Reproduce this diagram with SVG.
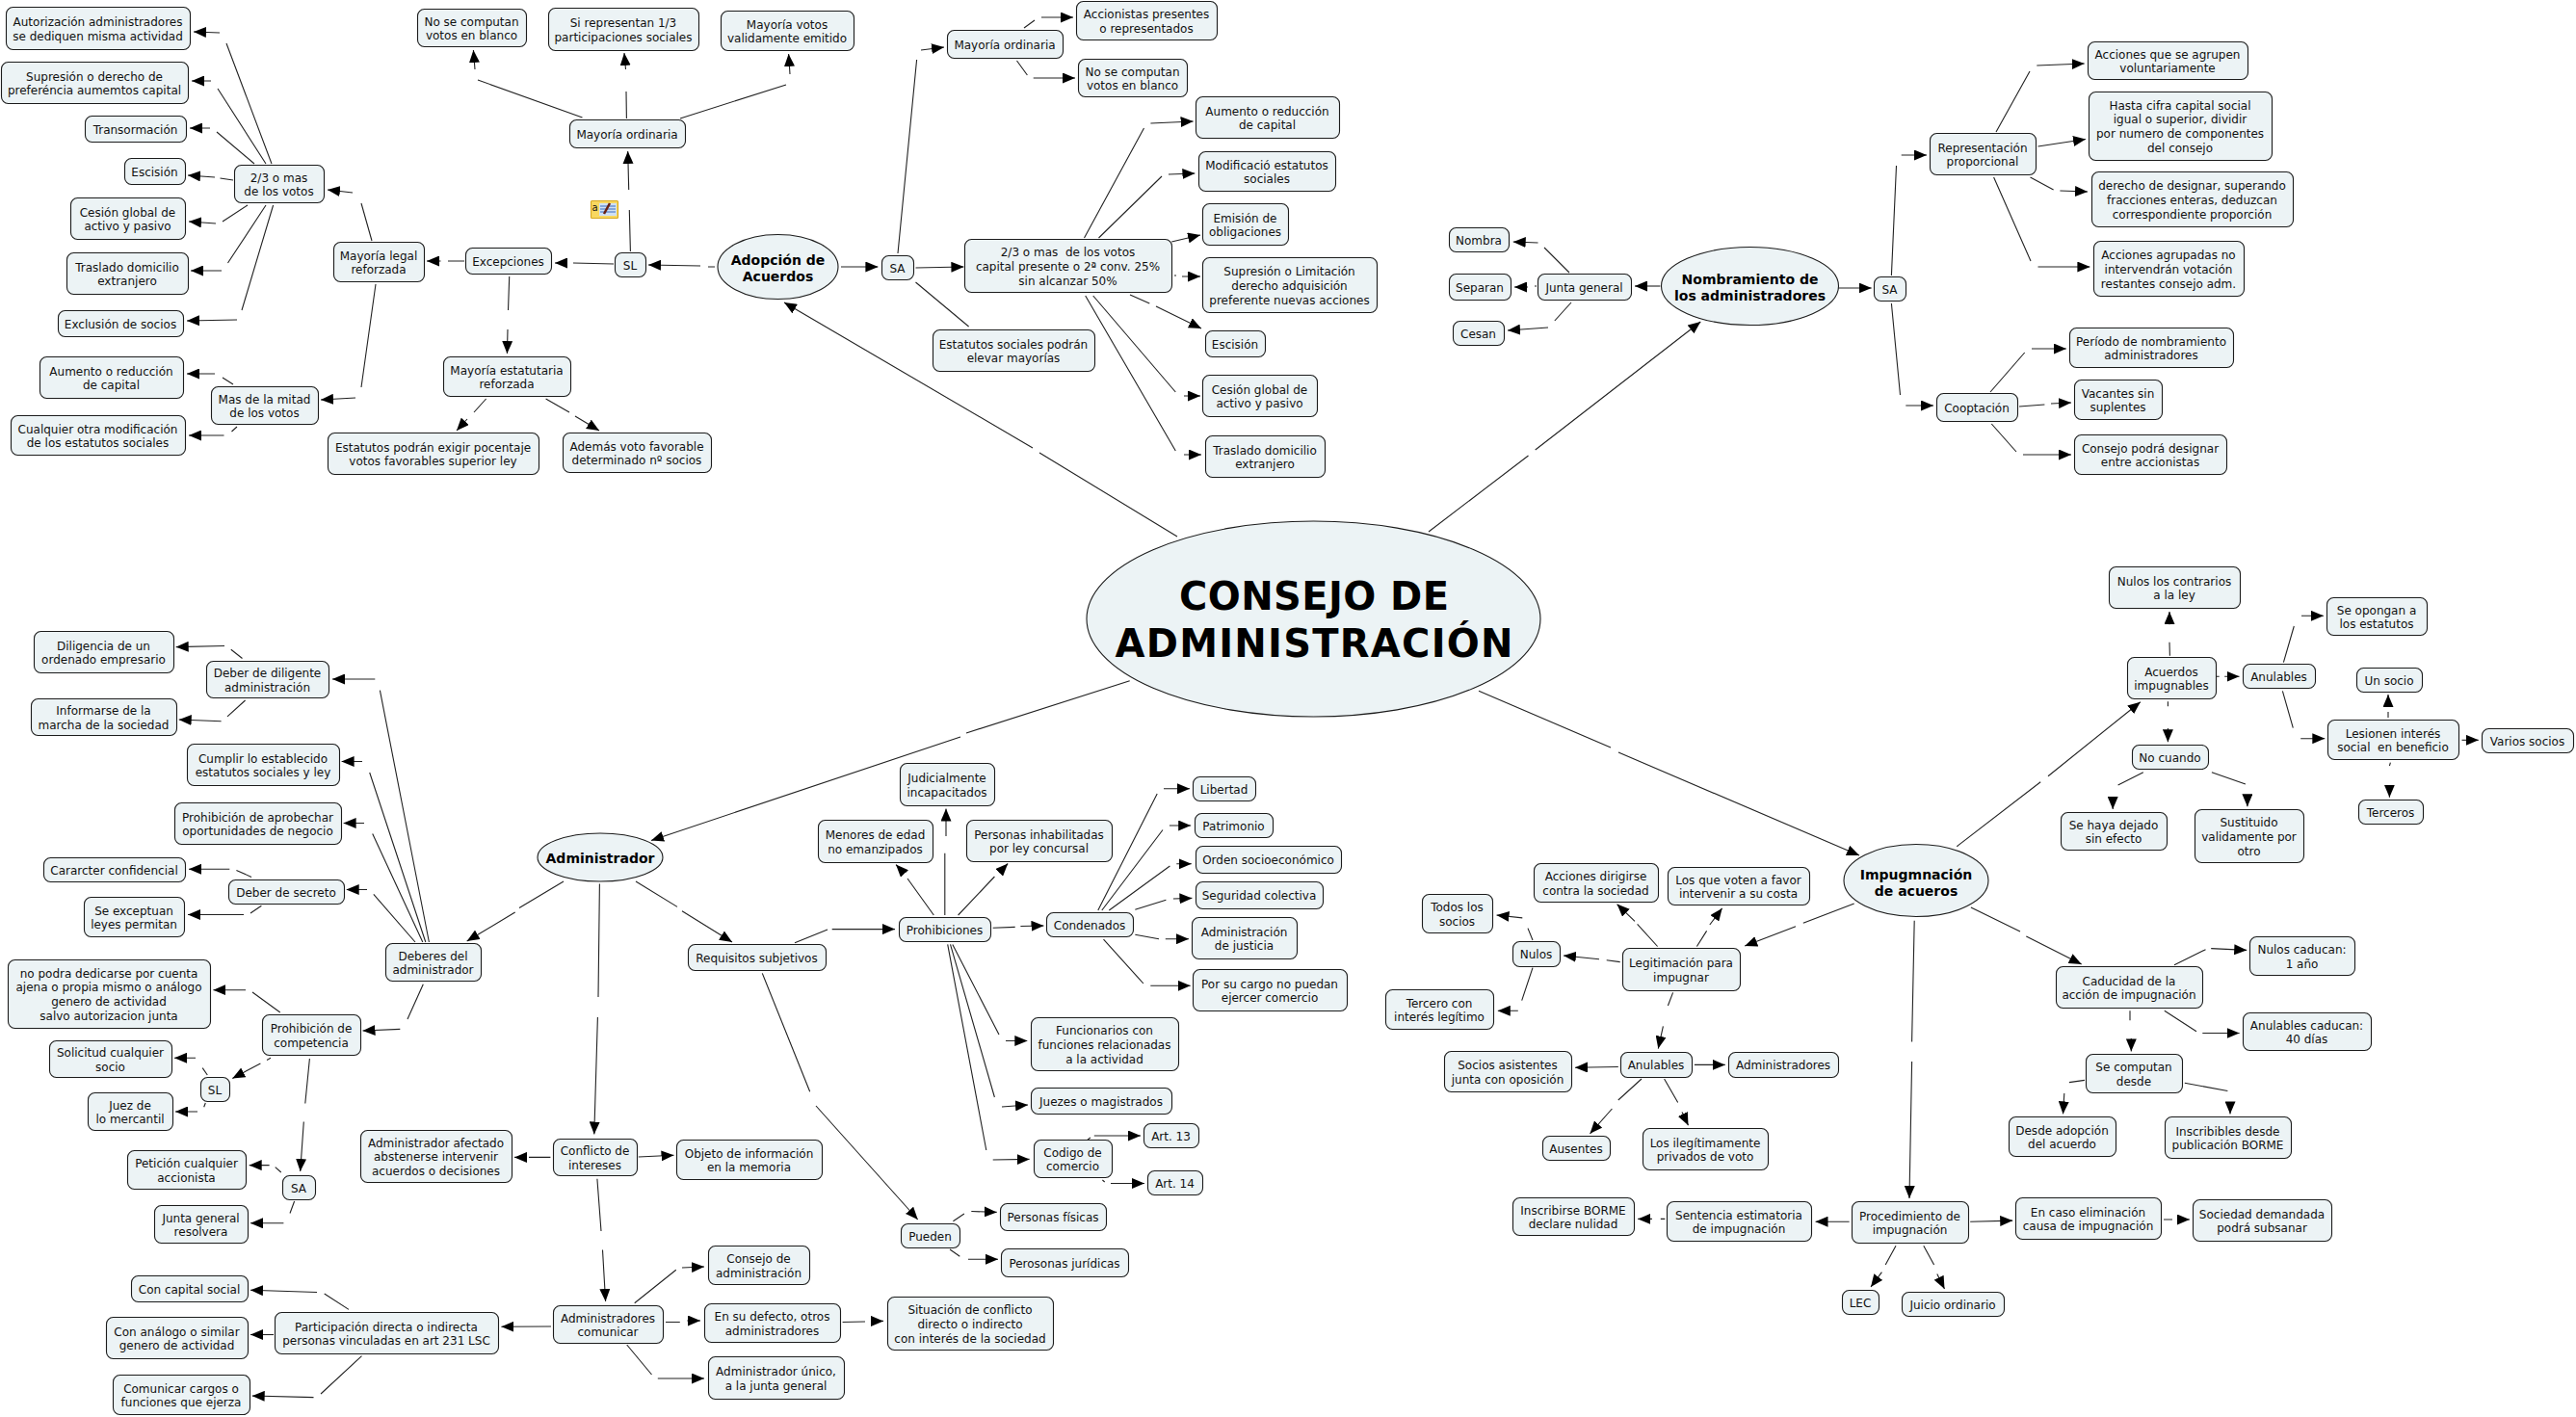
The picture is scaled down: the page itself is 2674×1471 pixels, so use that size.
<svg xmlns="http://www.w3.org/2000/svg" width="2674" height="1471" viewBox="0 0 2674 1471">
<style>
rect,ellipse{fill:#ecf3f5;stroke:#1c1c1c;stroke-width:1.1}
rect{rx:7px;ry:7px}
text{font-family:"DejaVu Sans",Verdana,sans-serif;font-size:12px;fill:#111;text-anchor:middle;white-space:pre;transform:translateY(1px)}
text.b{font-weight:bold;font-size:14px;fill:#000}
text.t{font-weight:bold;font-size:40px;fill:#000;transform:none}
#connectors path{fill:none;stroke:#222;stroke-width:1.1}
#connectors path.a{marker-end:url(#arr)}
</style>
<defs><marker id="arr" markerUnits="userSpaceOnUse" markerWidth="13" markerHeight="11" refX="13" refY="5.5" orient="auto"><path d="M0 0L13 5.5L0 11Z" fill="#000" stroke="none"/></marker></defs>
<rect width="2674" height="1471" style="fill:#fff;stroke:none;rx:0;ry:0"/>
<g id="connectors">
<path class="a" d="M282 170L235 45M228 34L201 33"/>
<path class="a" d="M276 170L226 92M219 84L199 84"/>
<path class="a" d="M264 170L225 137M218 133L197 133"/>
<path class="a" d="M242 187L228.5 185M223 184L195 182"/>
<path class="a" d="M257 213L231 230M224 232L196 230"/>
<path class="a" d="M276 213L236.500 273M230 281L198 281"/>
<path class="a" d="M283.600 213L251 322M246 332L194 333"/>
<path class="a" d="M386 250L375 211M366 200L340 197"/>
<path class="a" d="M390 295L375 402M369 413L333 415"/>
<path class="a" d="M242 399L231 392M223 388L194 388"/>
<path class="a" d="M246 443L240.500 448M232.500 452L196 452"/>
<path class="a" d="M482 271L465 271M457.500 271L443 271"/>
<path class="a" d="M637 274L595 273M589 273L576 273"/>
<path class="a" d="M742 277L735 277M727 276L673 275"/>
<path class="a" d="M654.400 261L653.300 218M652.700 197L651.700 157"/>
<path class="a" d="M604.500 122L496 83M493 72L491.400 52"/>
<path class="a" d="M650.400 123L650 95M649.500 72L648 55"/>
<path class="a" d="M706 123L816 88M820 77L818.600 56"/>
<path class="a" d="M528.700 287L527.500 322M527 342L526.400 367"/>
<path class="a" d="M504.600 414L492 428M485 435L474 447"/>
<path class="a" d="M566.600 414L591 428M597 432L622 447"/>
<path class="a" d="M1222 557L1079 470M1072 465L814 314"/>
<path class="a" d="M873 277L911.400 277"/>
<path class="a" d="M950.500 278L1000.400 277"/>
<path class="a" d="M932 263L951.600 62M956 52L980 49"/>
<path d="M950.500 293L1005.600 339"/>
<path class="a" d="M1063 29L1074 21M1081 18L1114 18"/>
<path class="a" d="M1055.500 63L1066.400 78M1072.700 81L1116 81"/>
<path class="a" d="M1125.500 247L1187.500 133M1194.400 128L1238.600 126"/>
<path class="a" d="M1140.500 247L1206 183M1213 181L1240.400 180"/>
<path class="a" d="M1216.200 251L1246 244"/>
<path class="a" d="M1219 286L1221 286M1227 287L1246 287"/>
<path class="a" d="M1173 306L1193.300 315M1200 318L1247 341"/>
<path class="a" d="M1134.700 307L1220.300 407M1229 411L1246 411"/>
<path class="a" d="M1126.700 307L1220.300 468M1229 472L1247 472"/>
<path class="a" d="M1483 552L1586.500 473M1593.700 467L1765.300 334"/>
<path class="a" d="M1723.400 297L1697 297"/>
<path class="a" d="M1907.700 299L1942.700 299"/>
<path class="a" d="M1629 283L1603 257M1596.500 252L1570.700 251"/>
<path class="a" d="M1595 297L1593 297M1586 298L1572 298"/>
<path class="a" d="M1631 314L1613.800 333M1607 340L1565 343"/>
<path class="a" d="M1963.400 286L1968.500 172M1973.700 161L2000 161"/>
<path class="a" d="M1963.400 315L1972.500 410M1978.300 421L2007 421"/>
<path class="a" d="M2072 137L2107 74M2114.300 68L2163.700 66"/>
<path class="a" d="M2115.500 152L2165 144.500"/>
<path class="a" d="M2107.500 184L2131.600 197M2138.400 198L2167 199"/>
<path class="a" d="M2069.600 184L2108 271M2115.500 277L2169.400 277"/>
<path class="a" d="M2066 407L2101.700 366M2109 362L2144.800 362"/>
<path class="a" d="M2096 422L2122.400 420M2129 419L2150 418"/>
<path class="a" d="M2067.300 440L2093 469M2100 472L2150 472"/>
<path class="a" d="M1172.700 706.700L1003 761M997 765L676 872.500"/>
<path class="a" d="M585 915L539 942.500M534.700 947L484.700 977"/>
<path class="a" d="M622.400 917.500L621 1035M620.400 1056L616.800 1177.500"/>
<path class="a" d="M660 915L703 941.400M708 945.700L760 978"/>
<path class="a" d="M445.400 978L394.400 716.600M389.300 705L345 705"/>
<path class="a" d="M441.800 978L383.700 802M376 790.500L354.600 790.500"/>
<path class="a" d="M438.800 978L386.700 865.400M378 854.500L356.600 854.500"/>
<path class="a" d="M431 978L387.800 928.400M381 923.500L359.700 923.500"/>
<path class="a" d="M439.300 1021.700L423 1058M415.300 1068.400L376.500 1070"/>
<path class="a" d="M251.500 683.500L239.800 674.300M233 670.500L182.700 671.600"/>
<path class="a" d="M254.600 727L236 743.800M229.600 748.700L185.700 747"/>
<path class="a" d="M261 910.400L245.400 903.400M238.300 902.300L196 902.300"/>
<path class="a" d="M271.400 940.300L260 948M253 949.500L195 949.500"/>
<path class="a" d="M290.800 1051L262 1030M255 1027.700L221.400 1027.700"/>
<path class="a" d="M281 1098.300L277 1100.500M270.400 1104L241.300 1119.500"/>
<path class="a" d="M321.400 1099L316.800 1145.500M315.300 1164.500L311.700 1216"/>
<path class="a" d="M215.300 1116L210.200 1108.600M203 1098.300L181 1098.300"/>
<path class="a" d="M213.300 1145L211.700 1149.300M205 1154L182 1154"/>
<path class="a" d="M291.800 1217L285.700 1211.700M279.600 1209.600L258.700 1209.600"/>
<path class="a" d="M305.600 1247L301 1259.500M294.400 1269.800L260 1269.800"/>
<path class="a" d="M571.400 1201.400L549 1201.400M544 1201.400L534 1201.400"/>
<path class="a" d="M662.800 1201L699.500 1199.300"/>
<path class="a" d="M619.900 1223.700L624 1278M625.500 1297.500L628.600 1351"/>
<path class="a" d="M572 1377L520.400 1377.300"/>
<path class="a" d="M362 1359.400L336.700 1343M329 1341.500L260 1339.300"/>
<path class="a" d="M284 1385.500L260 1385.500"/>
<path class="a" d="M375.500 1407.700L333 1447M325.500 1450.600L261.700 1449"/>
<path class="a" d="M658.700 1352.700L701.800 1318.300M708 1316L731 1315"/>
<path class="a" d="M691 1372.500L705.800 1372.500M713.300 1371L727 1371"/>
<path class="a" d="M650.700 1396L676.500 1427M682.800 1431L731 1431"/>
<path class="a" d="M874.600 1372.500L898 1372M904.400 1371.400L917 1371.400"/>
<path class="a" d="M825 978.700L859 965M863.700 964.600L929 964.600"/>
<path class="a" d="M791.300 1010.400L840.700 1133.300M847 1148L952.700 1266"/>
<path class="a" d="M969.300 950L942 912M938 906L930 897.600"/>
<path class="a" d="M980.800 950L980.800 885.700M982 868L982 839.500"/>
<path class="a" d="M994.600 950L1032.400 910M1037 906L1046.200 896.500"/>
<path class="a" d="M1030.700 963.300L1053.700 962.400M1059.400 961.500L1083.500 961"/>
<path class="a" d="M988.800 980.400L1037 1074M1044 1080.500L1066.300 1080.500"/>
<path class="a" d="M986.500 980.400L1032.400 1139M1040 1149L1067 1147"/>
<path class="a" d="M983.700 980.400L1023.800 1194M1030.700 1204L1068.600 1203.400"/>
<path class="a" d="M1139.800 945L1201.200 824M1208 818.800L1235 818.800"/>
<path class="a" d="M1143.800 945L1207 861.500M1213.900 857L1236.200 857"/>
<path class="a" d="M1151.300 945L1214.400 899M1221.300 896.800L1236.800 896.800"/>
<path class="a" d="M1178.300 944.300L1210.400 934.200M1217.900 933L1237.400 932.400"/>
<path class="a" d="M1178.300 970.300L1203 974.700M1209.800 974.700L1234 974.700"/>
<path class="a" d="M1145.500 975.200L1186.900 1021M1194.300 1023.300L1235.700 1023.300"/>
<path class="a" d="M1129 1183L1132 1181M1135.800 1179L1184 1179"/>
<path class="a" d="M1144.400 1225L1146.700 1227M1153 1228.500L1188 1228.500"/>
<path class="a" d="M989.400 1267.700L1000.900 1260M1008.300 1257.500L1034.700 1258.400"/>
<path class="a" d="M986 1297L996.300 1304.300M1005 1307.300L1036 1307.300"/>
<path class="a" d="M1535 717.300L1672 776M1680 781L1930 888"/>
<path class="a" d="M2031.300 878.700L2118.200 811.700M2126 805.700L2221.800 728.700"/>
<path class="a" d="M1924.700 937.900L1871.800 958.200M1864 961.800L1811.200 982"/>
<path class="a" d="M1987.200 955.700L1984.600 1081.400M1984.600 1102L1982 1244"/>
<path class="a" d="M2045.900 942L2097 967M2103.300 972L2160.700 1001"/>
<path class="a" d="M2252.400 680.700L2252 666.700M2252 648.300L2252 635"/>
<path class="a" d="M2300.800 702.300L2303.700 702.300M2309.200 702.300L2324.500 702.300"/>
<path class="a" d="M2250.400 728.300L2250.400 733.300M2250.400 756L2250.400 770.300"/>
<path class="a" d="M2370.400 687.700L2381.300 650M2389 639.300L2411.900 639.300"/>
<path class="a" d="M2369.400 717.300L2380.300 755.700M2388.200 766.700L2413.300 766.700"/>
<path class="a" d="M2479 745L2479 739M2479 732L2479 721"/>
<path class="a" d="M2555.500 768.300L2572.800 768.300"/>
<path class="a" d="M2481.400 791.700L2480.400 795M2480.400 816.700L2480.400 827.700"/>
<path class="a" d="M2224.800 801.700L2198.600 815M2193.200 828.300L2193.200 840"/>
<path class="a" d="M2295.900 801.700L2330.900 814M2332.900 825.700L2332.900 837.300"/>
<path class="a" d="M1720.600 982.500L1699.600 959.300M1697 956.400L1678.500 938.600"/>
<path class="a" d="M1761.400 982.500L1771.600 966.400M1774.800 960L1787.600 942.900"/>
<path class="a" d="M1681.700 998.600L1667.700 996.800M1660 995.700L1623 992"/>
<path class="a" d="M1736.600 1030.400L1731.400 1044M1726.400 1065.400L1721.300 1088.600"/>
<path class="a" d="M1591 976L1586 963.600M1580.300 952.900L1553.500 950"/>
<path class="a" d="M1591 1004.600L1579.700 1038.600M1575.800 1049.300L1554.800 1049.300"/>
<path class="a" d="M1679.800 1107.500L1635 1108.200"/>
<path class="a" d="M1758.900 1105.400L1790.800 1105.400"/>
<path class="a" d="M1704 1120L1679.800 1142M1673.400 1151L1650.500 1176.800"/>
<path class="a" d="M1727.600 1120L1741.700 1144.600M1746 1154.600L1752.500 1168.200"/>
<path class="a" d="M2257 1001.800L2289.500 985.700M2295.200 984.600L2332.200 986.400"/>
<path class="a" d="M2246.800 1049.300L2280 1070.700M2286.300 1072.500L2324.600 1072.500"/>
<path class="a" d="M2211 1049.300L2211 1059.300M2212.300 1077.900L2212.300 1091.400"/>
<path class="a" d="M2163.900 1121.400L2147.900 1123.600M2142.800 1135L2141.500 1156.400"/>
<path class="a" d="M2267.800 1124.300L2312.400 1132.500M2315 1143.900L2315 1156.400"/>
<path class="a" d="M1919.600 1268.200L1884.500 1268.200"/>
<path class="a" d="M1728.300 1265.400L1723.800 1265.400M1714.900 1265.400L1700.200 1265.400"/>
<path class="a" d="M2045.200 1268.200L2089.200 1267.100"/>
<path class="a" d="M2246 1266L2255 1266M2262.700 1266L2272.900 1266"/>
<path class="a" d="M1968 1293.200L1957.200 1312.900M1953.400 1320.700L1942 1336"/>
<path class="a" d="M1996.800 1293.200L2007.600 1312.900M2010.800 1322.500L2018.500 1337.900"/>
</g>
<g id="note-icon">
<rect x="613.500" y="208.500" width="28" height="18" style="fill:#f8d860;stroke:#d8a820;rx:1px;ry:1px"/>
<rect x="622" y="211" width="18" height="13" style="fill:#cfe0f4;stroke:none;rx:0;ry:0"/>
<path d="M623 214H639M623 217H639M623 220H639" stroke="#3a6cc0" stroke-width="1" fill="none"/>
<path d="M627 222L633 211" stroke="#6a2010" stroke-width="2.500" fill="none"/>
<text x="617.500" y="218" style="font-size:10px">a</text>
</g>
<g id="center"><ellipse cx="1363.500" cy="642.500" rx="235.500" ry="101.500"/><text class="t" x="1364" y="633" textLength="280">CONSEJO DE</text><text class="t" x="1364" y="682" textLength="413">ADMINISTRACIÓN</text></g>
<g id="adopcion"><ellipse cx="807.500" cy="277" rx="62.500" ry="33.500"/><text class="b" x="807.500" y="274">Adopción de<tspan x="807.500" dy="17">Acuerdos</tspan></text></g>
<g id="nombramiento"><ellipse cx="1816.500" cy="297" rx="92" ry="40.500"/><text class="b" x="1816.500" y="293.500">Nombramiento de<tspan x="1816.500" dy="17">los administradores</tspan></text></g>
<g id="administrador"><ellipse cx="623" cy="890" rx="65" ry="25"/><text class="b" x="623" y="895">Administrador</text></g>
<g id="impugnacion"><ellipse cx="1989" cy="914" rx="75" ry="37.500"/><text class="b" x="1989" y="912">Impugmnación<tspan x="1989" dy="17">de acueros</tspan></text></g>
<g id="ad01"><rect x="6.500" y="7.500" width="191" height="44"/><text x="101.500" y="26">Autorización administradores<tspan x="101.500" dy="14.700">se dediquen misma actividad</tspan></text></g>
<g id="ad02"><rect x="1.500" y="64.500" width="194" height="43"/><text x="98" y="82.500">Supresión o derecho de<tspan x="98" dy="14.700">preferéncia aumemtos capital</tspan></text></g>
<g id="ad03"><rect x="88.500" y="120.500" width="105" height="27"/><text x="140.500" y="137.800">Transormación</text></g>
<g id="ad04"><rect x="129.500" y="164.500" width="63" height="27"/><text x="160.500" y="181.800">Escisión</text></g>
<g id="ad05"><rect x="73.500" y="205.500" width="119" height="43"/><text x="132.500" y="223.500">Cesión global de<tspan x="132.500" dy="14.700">activo y pasivo</tspan></text></g>
<g id="ad06"><rect x="69.500" y="262.500" width="126" height="43"/><text x="132" y="280.500">Traslado domicilio<tspan x="132" dy="14.700">extranjero</tspan></text></g>
<g id="ad07"><rect x="60.500" y="322.500" width="130" height="27"/><text x="125" y="339.800">Exclusión de socios</text></g>
<g id="ad08"><rect x="243.500" y="171.500" width="93" height="39"/><text x="289.500" y="187.500">2/3 o mas<tspan x="289.500" dy="14.700">de los votos</tspan></text></g>
<g id="ad09"><rect x="346.500" y="251.500" width="94" height="41"/><text x="393" y="268.500">Mayoría legal<tspan x="393" dy="14.700">reforzada</tspan></text></g>
<g id="ad10"><rect x="483.500" y="257.500" width="89" height="27"/><text x="527.500" y="274.800">Excepciones</text></g>
<g id="ad11"><rect x="638.500" y="262.500" width="32" height="25"/><text x="654" y="278.800">SL</text></g>
<g id="ad12"><rect x="591.500" y="124.500" width="120" height="29"/><text x="651" y="142.800">Mayoría ordinaria</text></g>
<g id="ad13"><rect x="433.500" y="9.500" width="113" height="39"/><text x="489.500" y="25.500">No se computan<tspan x="489.500" dy="14.700">votos en blanco</tspan></text></g>
<g id="ad14"><rect x="569.500" y="8.500" width="156" height="44"/><text x="647" y="27">Si representan 1/3<tspan x="647" dy="14.700">participaciones sociales</tspan></text></g>
<g id="ad15"><rect x="748.500" y="11.500" width="138" height="41"/><text x="817" y="28.500">Mayoría votos<tspan x="817" dy="14.700">validamente emitido</tspan></text></g>
<g id="ad16"><rect x="41.500" y="370.500" width="149" height="43"/><text x="115.500" y="388.500">Aumento o reducción<tspan x="115.500" dy="14.700">de capital</tspan></text></g>
<g id="ad17"><rect x="11.500" y="431.500" width="181" height="41"/><text x="101.500" y="448.500">Cualquier otra modificación<tspan x="101.500" dy="14.700">de los estatutos sociales</tspan></text></g>
<g id="ad18"><rect x="219.500" y="401.500" width="111" height="39"/><text x="274.500" y="417.500">Mas de la mitad<tspan x="274.500" dy="14.700">de los votos</tspan></text></g>
<g id="ad19"><rect x="460.500" y="370.500" width="132" height="41"/><text x="526" y="387.500">Mayoría estatutaria<tspan x="526" dy="14.700">reforzada</tspan></text></g>
<g id="ad20"><rect x="340.500" y="449.500" width="219" height="43"/><text x="449.500" y="467.500">Estatutos podrán exigir pocentaje<tspan x="449.500" dy="14.700">votos favorables superior ley</tspan></text></g>
<g id="ad21"><rect x="584.500" y="449.500" width="154" height="41"/><text x="661" y="466.500">Además voto favorable<tspan x="661" dy="14.700">determinado nº socios</tspan></text></g>
<g id="ad22"><rect x="983.500" y="31.500" width="120" height="29"/><text x="1043" y="49.800">Mayoría ordinaria</text></g>
<g id="ad23"><rect x="1117.500" y="1.500" width="146" height="40"/><text x="1190" y="18">Accionistas presentes<tspan x="1190" dy="14.700">o representados</tspan></text></g>
<g id="ad24"><rect x="1119.500" y="61.500" width="113" height="39"/><text x="1175.500" y="77.500">No se computan<tspan x="1175.500" dy="14.700">votos en blanco</tspan></text></g>
<g id="ad25"><rect x="915.500" y="265.500" width="33" height="25"/><text x="931.500" y="281.800">SA</text></g>
<g id="ad26"><rect x="1001.500" y="248.500" width="215" height="55"/><text x="1108.500" y="265.100">2/3 o mas  de los votos<tspan x="1108.500" dy="14.700">capital presente o 2ª conv. 25%</tspan><tspan x="1108.500" dy="14.700">sin alcanzar 50%</tspan></text></g>
<g id="ad27"><rect x="1241.500" y="100.500" width="149" height="43"/><text x="1315.500" y="118.500">Aumento o reducción<tspan x="1315.500" dy="14.700">de capital</tspan></text></g>
<g id="ad28"><rect x="1244.500" y="157.500" width="142" height="41"/><text x="1315" y="174.500">Modificació estatutos<tspan x="1315" dy="14.700">sociales</tspan></text></g>
<g id="ad29"><rect x="1248.500" y="211.500" width="89" height="43"/><text x="1292.500" y="229.500">Emisión de<tspan x="1292.500" dy="14.700">obligaciones</tspan></text></g>
<g id="ad30"><rect x="1248.500" y="267.500" width="181" height="57"/><text x="1338.500" y="285.100">Supresión o Limitación<tspan x="1338.500" dy="14.700">derecho adquisición</tspan><tspan x="1338.500" dy="14.700">preferente nuevas acciones</tspan></text></g>
<g id="ad31"><rect x="1251.500" y="343.500" width="62" height="27"/><text x="1282" y="360.800">Escisión</text></g>
<g id="ad32"><rect x="1248.500" y="389.500" width="119" height="43"/><text x="1307.500" y="407.500">Cesión global de<tspan x="1307.500" dy="14.700">activo y pasivo</tspan></text></g>
<g id="ad33"><rect x="1251.500" y="452.500" width="124" height="43"/><text x="1313" y="470.500">Traslado domicilio<tspan x="1313" dy="14.700">extranjero</tspan></text></g>
<g id="ad34"><rect x="968.500" y="342.500" width="168" height="43"/><text x="1052" y="360.500">Estatutos sociales podrán<tspan x="1052" dy="14.700">elevar mayorías</tspan></text></g>
<g id="nb01"><rect x="1504.500" y="236.500" width="62" height="25"/><text x="1535" y="252.800">Nombra</text></g>
<g id="nb02"><rect x="1504.500" y="284.500" width="64" height="27"/><text x="1536" y="301.800">Separan</text></g>
<g id="nb03"><rect x="1508.500" y="333.500" width="53" height="25"/><text x="1534.500" y="349.800">Cesan</text></g>
<g id="nb04"><rect x="1596.500" y="284.500" width="97" height="27"/><text x="1644.500" y="301.800">Junta general</text></g>
<g id="nb05"><rect x="1945.500" y="287.500" width="33" height="25"/><text x="1961.500" y="303.800">SA</text></g>
<g id="nb06"><rect x="2003.500" y="138.500" width="110" height="43"/><text x="2058" y="156.500">Representación<tspan x="2058" dy="14.700">proporcional</tspan></text></g>
<g id="nb07"><rect x="2167.500" y="43.500" width="166" height="39"/><text x="2250" y="59.500">Acciones que se agrupen<tspan x="2250" dy="14.700">voluntariamente</tspan></text></g>
<g id="nb08"><rect x="2168.500" y="95.500" width="190" height="71"/><text x="2263" y="112.750">Hasta cifra capital social<tspan x="2263" dy="14.700">igual o superior, dividir</tspan><tspan x="2263" dy="14.700">por numero de componentes</tspan><tspan x="2263" dy="14.700">del consejo</tspan></text></g>
<g id="nb09"><rect x="2171.500" y="178.500" width="209" height="57"/><text x="2275.500" y="196.100">derecho de designar, superando<tspan x="2275.500" dy="14.700">fracciones enteras, deduzcan</tspan><tspan x="2275.500" dy="14.700">correspondiente proporción</tspan></text></g>
<g id="nb10"><rect x="2173.500" y="250.500" width="156" height="57"/><text x="2251" y="268.100">Acciones agrupadas no<tspan x="2251" dy="14.700">intervendrán votación</tspan><tspan x="2251" dy="14.700">restantes consejo adm.</tspan></text></g>
<g id="nb11"><rect x="2148.500" y="340.500" width="170" height="41"/><text x="2233" y="357.500">Período de nombramiento<tspan x="2233" dy="14.700">administradores</tspan></text></g>
<g id="nb12"><rect x="2153.500" y="394.500" width="91" height="41"/><text x="2198.500" y="411.500">Vacantes sin<tspan x="2198.500" dy="14.700">suplentes</tspan></text></g>
<g id="nb13"><rect x="2153.500" y="451.500" width="158" height="41"/><text x="2232" y="468.500">Consejo podrá designar<tspan x="2232" dy="14.700">entre accionistas</tspan></text></g>
<g id="nb14"><rect x="2010.500" y="408.500" width="84" height="29"/><text x="2052" y="426.800">Cooptación</text></g>
<g id="am01"><rect x="35.500" y="655.500" width="145" height="43"/><text x="107.500" y="673.500">Diligencia de un<tspan x="107.500" dy="14.700">ordenado empresario</tspan></text></g>
<g id="am02"><rect x="214.500" y="686.500" width="127" height="38"/><text x="277.500" y="702">Deber de diligente<tspan x="277.500" dy="14.700">administración</tspan></text></g>
<g id="am03"><rect x="32.500" y="725.500" width="151" height="38"/><text x="107.500" y="741">Informarse de la<tspan x="107.500" dy="14.700">marcha de la sociedad</tspan></text></g>
<g id="am04"><rect x="194.500" y="772.500" width="158" height="43"/><text x="273" y="790.500">Cumplir lo establecido<tspan x="273" dy="14.700">estatutos sociales y ley</tspan></text></g>
<g id="am05"><rect x="181.500" y="833.500" width="173" height="43"/><text x="267.500" y="851.500">Prohibición de aprobechar<tspan x="267.500" dy="14.700">oportunidades de negocio</tspan></text></g>
<g id="am06"><rect x="45.500" y="890.500" width="147" height="25"/><text x="118.500" y="906.800">Cararcter confidencial</text></g>
<g id="am07"><rect x="237.500" y="913.500" width="120" height="25"/><text x="297" y="929.800">Deber de secreto</text></g>
<g id="am08"><rect x="87.500" y="931.500" width="104" height="41"/><text x="139" y="948.500">Se exceptuan<tspan x="139" dy="14.700">leyes permitan</tspan></text></g>
<g id="am09"><rect x="400.500" y="979.500" width="99" height="39"/><text x="449.500" y="995.500">Deberes del<tspan x="449.500" dy="14.700">administrador</tspan></text></g>
<g id="am10"><rect x="8.500" y="996.500" width="210" height="71"/><text x="113" y="1013.750">no podra dedicarse por cuenta<tspan x="113" dy="14.700">ajena o propia mismo o análogo</tspan><tspan x="113" dy="14.700">genero de actividad</tspan><tspan x="113" dy="14.700">salvo autorizacion junta</tspan></text></g>
<g id="am11"><rect x="272.500" y="1053.500" width="102" height="42"/><text x="323" y="1071">Prohibición de<tspan x="323" dy="14.700">competencia</tspan></text></g>
<g id="am12"><rect x="51.500" y="1080.500" width="127" height="38"/><text x="114.500" y="1096">Solicitud cualquier<tspan x="114.500" dy="14.700">socio</tspan></text></g>
<g id="am13"><rect x="208.500" y="1118.500" width="30" height="25"/><text x="223" y="1134.800">SL</text></g>
<g id="am14"><rect x="91.500" y="1134.500" width="88" height="39"/><text x="135" y="1150.500">Juez de<tspan x="135" dy="14.700">lo mercantil</tspan></text></g>
<g id="am15"><rect x="132.500" y="1194.500" width="123" height="40"/><text x="193.500" y="1211">Petición cualquier<tspan x="193.500" dy="14.700">accionista</tspan></text></g>
<g id="am16"><rect x="293.500" y="1220.500" width="34" height="25"/><text x="310" y="1236.800">SA</text></g>
<g id="am17"><rect x="160.500" y="1251.500" width="97" height="39"/><text x="208.500" y="1267.500">Junta general<tspan x="208.500" dy="14.700">resolvera</tspan></text></g>
<g id="am18"><rect x="374.500" y="1173.500" width="157" height="54"/><text x="452.500" y="1189.600">Administrador afectado<tspan x="452.500" dy="14.700">abstenerse intervenir</tspan><tspan x="452.500" dy="14.700">acuerdos o decisiones</tspan></text></g>
<g id="am19"><rect x="574.500" y="1182.500" width="87" height="38"/><text x="617.500" y="1198">Conflicto de<tspan x="617.500" dy="14.700">intereses</tspan></text></g>
<g id="am20"><rect x="702.500" y="1183.500" width="151" height="41"/><text x="777.500" y="1200.500">Objeto de información<tspan x="777.500" dy="14.700">en la memoria</tspan></text></g>
<g id="am21"><rect x="136.500" y="1324.500" width="121" height="27"/><text x="196.500" y="1341.800">Con capital social</text></g>
<g id="am22"><rect x="110.500" y="1367.500" width="147" height="43"/><text x="183.500" y="1385.500">Con análogo o similar<tspan x="183.500" dy="14.700">genero de actividad</tspan></text></g>
<g id="am23"><rect x="117.500" y="1427.500" width="142" height="41"/><text x="188" y="1444.500">Comunicar cargos o<tspan x="188" dy="14.700">funciones que ejerza</tspan></text></g>
<g id="am24"><rect x="285.500" y="1362.500" width="232" height="43"/><text x="401" y="1380.500">Participación directa o indirecta<tspan x="401" dy="14.700">personas vinculadas en art 231 LSC</tspan></text></g>
<g id="am25"><rect x="574.500" y="1355.500" width="114" height="39"/><text x="631" y="1371.500">Administradores<tspan x="631" dy="14.700">comunicar</tspan></text></g>
<g id="am26"><rect x="714.500" y="980.500" width="143" height="27"/><text x="785.500" y="997.800">Requisitos subjetivos</text></g>
<g id="am27"><rect x="934.500" y="792.500" width="98" height="44"/><text x="983" y="811">Judicialmente<tspan x="983" dy="14.700">incapacitados</tspan></text></g>
<g id="am28"><rect x="849.500" y="851.500" width="119" height="44"/><text x="908.500" y="870">Menores de edad<tspan x="908.500" dy="14.700">no emanzipados</tspan></text></g>
<g id="am29"><rect x="1003.500" y="851.500" width="151" height="43"/><text x="1078.500" y="869.500">Personas inhabilitadas<tspan x="1078.500" dy="14.700">por ley concursal</tspan></text></g>
<g id="am30"><rect x="933.500" y="952.500" width="95" height="25"/><text x="980.500" y="968.800">Prohibiciones</text></g>
<g id="am31"><rect x="1086.500" y="947.500" width="90" height="25"/><text x="1131" y="963.800">Condenados</text></g>
<g id="am32"><rect x="1238.500" y="806.500" width="65" height="25"/><text x="1270.500" y="822.800">Libertad</text></g>
<g id="am33"><rect x="1240.500" y="844.500" width="81" height="25"/><text x="1280.500" y="860.800">Patrimonio</text></g>
<g id="am34"><rect x="1241.500" y="878.500" width="151" height="28"/><text x="1316.500" y="896.300">Orden socioeconómico</text></g>
<g id="am35"><rect x="1241.500" y="915.500" width="132" height="28"/><text x="1307" y="933.300">Seguridad colectiva</text></g>
<g id="am36"><rect x="1237.500" y="952.500" width="109" height="43"/><text x="1291.500" y="970.500">Administración<tspan x="1291.500" dy="14.700">de justicia</tspan></text></g>
<g id="am37"><rect x="1238.500" y="1006.500" width="160" height="43"/><text x="1318" y="1024.500">Por su cargo no puedan<tspan x="1318" dy="14.700">ejercer comercio</tspan></text></g>
<g id="am38"><rect x="1070.500" y="1056.500" width="153" height="55"/><text x="1146.500" y="1073.100">Funcionarios con<tspan x="1146.500" dy="14.700">funciones relacionadas</tspan><tspan x="1146.500" dy="14.700">a la actividad</tspan></text></g>
<g id="am39"><rect x="1070.500" y="1129.500" width="146" height="27"/><text x="1143" y="1146.800">Juezes o magistrados</text></g>
<g id="am40"><rect x="1073.500" y="1183.500" width="81" height="39"/><text x="1113.500" y="1199.500">Codigo de<tspan x="1113.500" dy="14.700">comercio</tspan></text></g>
<g id="am41"><rect x="1187.500" y="1166.500" width="57" height="25"/><text x="1215.500" y="1182.800">Art. 13</text></g>
<g id="am42"><rect x="1191.500" y="1215.500" width="57" height="25"/><text x="1219.500" y="1231.800">Art. 14</text></g>
<g id="am43"><rect x="935.500" y="1270.500" width="61" height="25"/><text x="965.500" y="1286.800">Pueden</text></g>
<g id="am44"><rect x="1038.500" y="1249.500" width="110" height="28"/><text x="1093" y="1267.300">Personas físicas</text></g>
<g id="am45"><rect x="1039.500" y="1296.500" width="132" height="29"/><text x="1105" y="1314.800">Perosonas jurídicas</text></g>
<g id="am46"><rect x="735.500" y="1293.500" width="105" height="40"/><text x="787.500" y="1310">Consejo de<tspan x="787.500" dy="14.700">administración</tspan></text></g>
<g id="am47"><rect x="731.500" y="1353.500" width="141" height="40"/><text x="801.500" y="1370">En su defecto, otros<tspan x="801.500" dy="14.700">administradores</tspan></text></g>
<g id="am48"><rect x="921.500" y="1346.500" width="172" height="55"/><text x="1007" y="1363.100">Situación de conflicto<tspan x="1007" dy="14.700">directo o indirecto</tspan><tspan x="1007" dy="14.700">con interés de la sociedad</tspan></text></g>
<g id="am49"><rect x="735.500" y="1408.500" width="141" height="44"/><text x="805.500" y="1427">Administrador único,<tspan x="805.500" dy="14.700">a la junta general</tspan></text></g>
<g id="im01"><rect x="1592.500" y="896.500" width="129" height="40"/><text x="1656.500" y="913">Acciones dirigirse<tspan x="1656.500" dy="14.700">contra la sociedad</tspan></text></g>
<g id="im02"><rect x="1731.500" y="900.500" width="147" height="39"/><text x="1804.500" y="916.500">Los que voten a favor<tspan x="1804.500" dy="14.700">intervenir a su costa</tspan></text></g>
<g id="im03"><rect x="1476.500" y="928.500" width="73" height="40"/><text x="1512.500" y="945">Todos los<tspan x="1512.500" dy="14.700">socios</tspan></text></g>
<g id="im04"><rect x="1570.500" y="977.500" width="49" height="26"/><text x="1594.500" y="994.300">Nulos</text></g>
<g id="im05"><rect x="1438.500" y="1027.500" width="112" height="41"/><text x="1494" y="1044.500">Tercero con<tspan x="1494" dy="14.700">interés legítimo</tspan></text></g>
<g id="im06"><rect x="1684.500" y="984.500" width="122" height="44"/><text x="1745" y="1003">Legitimación para<tspan x="1745" dy="14.700">impugnar</tspan></text></g>
<g id="im07"><rect x="1682.500" y="1092.500" width="74" height="26"/><text x="1719" y="1109.300">Anulables</text></g>
<g id="im08"><rect x="1794.500" y="1092.500" width="114" height="26"/><text x="1851" y="1109.300">Administradores</text></g>
<g id="im09"><rect x="1499.500" y="1091.500" width="132" height="42"/><text x="1565" y="1109">Socios asistentes<tspan x="1565" dy="14.700">junta con oposición</tspan></text></g>
<g id="im10"><rect x="1601.500" y="1179.500" width="70" height="25"/><text x="1636" y="1195.800">Ausentes</text></g>
<g id="im11"><rect x="1705.500" y="1171.500" width="130" height="43"/><text x="1770" y="1189.500">Los ilegítimamente<tspan x="1770" dy="14.700">privados de voto</tspan></text></g>
<g id="im12"><rect x="1570.500" y="1243.500" width="126" height="39"/><text x="1633" y="1259.500">Inscribirse BORME<tspan x="1633" dy="14.700">declare nulidad</tspan></text></g>
<g id="im13"><rect x="1730.500" y="1247.500" width="150" height="41"/><text x="1805" y="1264.500">Sentencia estimatoria<tspan x="1805" dy="14.700">de impugnación</tspan></text></g>
<g id="im14"><rect x="1922.500" y="1247.500" width="121" height="43"/><text x="1982.500" y="1265.500">Procedimiento de<tspan x="1982.500" dy="14.700">impugnación</tspan></text></g>
<g id="im15"><rect x="2092.500" y="1243.500" width="151" height="43"/><text x="2167.500" y="1261.500">En caso eliminación<tspan x="2167.500" dy="14.700">causa de impugnación</tspan></text></g>
<g id="im16"><rect x="2276.500" y="1245.500" width="144" height="43"/><text x="2348" y="1263.500">Sociedad demandada<tspan x="2348" dy="14.700">podrá subsanar</tspan></text></g>
<g id="im17"><rect x="1912.500" y="1339.500" width="38" height="25"/><text x="1931" y="1355.800">LEC</text></g>
<g id="im18"><rect x="1974.500" y="1341.500" width="106" height="25"/><text x="2027" y="1357.800">Juicio ordinario</text></g>
<g id="im19"><rect x="2134.500" y="1003.500" width="152" height="43"/><text x="2210" y="1021.500">Caducidad de la<tspan x="2210" dy="14.700">acción de impugnación</tspan></text></g>
<g id="im20"><rect x="2335.500" y="972.500" width="109" height="40"/><text x="2389.500" y="989">Nulos caducan:<tspan x="2389.500" dy="14.700">1 año</tspan></text></g>
<g id="im21"><rect x="2328.500" y="1051.500" width="133" height="39"/><text x="2394.500" y="1067.500">Anulables caducan:<tspan x="2394.500" dy="14.700">40 días</tspan></text></g>
<g id="im22"><rect x="2165.500" y="1094.500" width="100" height="40"/><text x="2215" y="1111">Se computan<tspan x="2215" dy="14.700">desde</tspan></text></g>
<g id="im23"><rect x="2085.500" y="1159.500" width="111" height="41"/><text x="2140.500" y="1176.500">Desde adopción<tspan x="2140.500" dy="14.700">del acuerdo</tspan></text></g>
<g id="im24"><rect x="2247.500" y="1159.500" width="131" height="43"/><text x="2312.500" y="1177.500">Inscribibles desde<tspan x="2312.500" dy="14.700">publicación BORME</tspan></text></g>
<g id="im25"><rect x="2189.500" y="588.500" width="136" height="43"/><text x="2257" y="606.500">Nulos los contrarios<tspan x="2257" dy="14.700">a la ley</tspan></text></g>
<g id="im26"><rect x="2208.500" y="682.500" width="92" height="43"/><text x="2254" y="700.500">Acuerdos<tspan x="2254" dy="14.700">impugnables</tspan></text></g>
<g id="im27"><rect x="2328.500" y="689.500" width="75" height="25"/><text x="2365.500" y="705.800">Anulables</text></g>
<g id="im28"><rect x="2415.500" y="620.500" width="104" height="39"/><text x="2467" y="636.500">Se opongan a<tspan x="2467" dy="14.700">los estatutos</tspan></text></g>
<g id="im29"><rect x="2446.500" y="693.500" width="68" height="25"/><text x="2480" y="709.800">Un socio</text></g>
<g id="im30"><rect x="2416.500" y="747.500" width="136" height="41"/><text x="2484" y="764.500">Lesionen interés<tspan x="2484" dy="14.700">social  en beneficio</tspan></text></g>
<g id="im31"><rect x="2576.500" y="756.500" width="95" height="25"/><text x="2623.500" y="772.800">Varios socios</text></g>
<g id="im32"><rect x="2448.500" y="830.500" width="67" height="25"/><text x="2481.500" y="846.800">Terceros</text></g>
<g id="im33"><rect x="2213.500" y="773.500" width="79" height="25"/><text x="2252.500" y="789.800">No cuando</text></g>
<g id="im34"><rect x="2139.500" y="843.500" width="110" height="39"/><text x="2194" y="859.500">Se haya dejado<tspan x="2194" dy="14.700">sin efecto</tspan></text></g>
<g id="im35"><rect x="2278.500" y="840.500" width="113" height="55"/><text x="2334.500" y="857.100">Sustituido<tspan x="2334.500" dy="14.700">validamente por</tspan><tspan x="2334.500" dy="14.700">otro</tspan></text></g>
</svg>
